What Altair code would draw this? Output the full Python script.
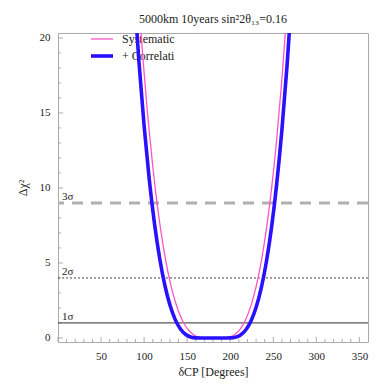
import altair as alt
import pandas as pd

# ---- data ----
deg_sys = [92, 98, 104, 110, 116, 122, 128, 134, 140, 146, 152, 158, 164, 170, 176, 182, 188, 194,
           200, 206, 212, 218, 224, 230, 236, 242, 248, 254, 260, 266]
chi_sys = [23.9, 19.08, 14.95, 11.46, 8.55, 6.19, 4.31, 2.85, 1.77, 1.0, 0.495, 0.197, 0.052, 0.004, 0, 0, 0, 0.009,
           0.076, 0.262, 0.627, 1.232, 2.136, 3.40, 5.08, 7.25, 9.95, 13.26, 17.23, 21.92]

deg_cor = [88, 94, 100, 106, 112, 118, 124, 130, 136, 142, 148, 154, 160, 166, 172, 178, 184, 190, 196,
           200, 206, 212, 218, 224, 230, 236, 242, 248, 254, 260, 266, 272]
chi_cor = [23.5, 18.4, 14.14, 10.56, 7.65, 5.33, 3.53, 2.19, 1.24, 0.616, 0.246, 0.065, 0.006, 0, 0, 0, 0, 0, 0,
           0.002, 0.045, 0.199, 0.533, 1.118, 2.025, 3.32, 5.08, 7.38, 10.28, 13.85, 18.17, 23.3]

series_names = ["Systematic", "+ Correlati"]
series_colors = ["#ff55c4", "#2b10ff"]
series_widths = [1.3, 3.6]
legend_rows = [6, 23]   # pixel offsets of the legend rows from the plot top
sigma_levels = [1, 4, 9]
sigma_labels = ["1σ", "2σ", "3σ"]

x_major = [0, 50, 100, 150, 200, 250, 300, 350]
x_minor = [v for v in range(10, 360, 10) if v % 50 != 0]
y_major = [0, 5, 10, 15, 20]
y_minor = [v for v in range(1, 21) if v % 5 != 0]

FONT = "Liberation Serif"
W, H = 310, 309

df = pd.concat([
    pd.DataFrame({"deg": deg_sys, "chi": chi_sys, "series": series_names[0], "order": range(len(deg_sys))}),
    pd.DataFrame({"deg": deg_cor, "chi": chi_cor, "series": series_names[1], "order": range(len(deg_cor))}),
])

xs = alt.Scale(domain=[0, 360], nice=False)
ys = alt.Scale(domain=[-0.27, 20.33], nice=False)
cs = alt.Scale(domain=series_names, range=series_colors)
ws = alt.Scale(domain=series_names, range=series_widths)

curves = alt.Chart(df).mark_line(clip=True, interpolate="monotone").encode(
    x=alt.X("deg:Q", scale=xs,
            axis=alt.Axis(values=x_major[1:], ticks=False, domain=False, grid=False,
                          labelPadding=8, labelFont=FONT, labelFontSize=11, labelColor="#222",
                          title="δCP [Degrees]", titleFont=FONT, titleFontSize=12,
                          titleFontWeight="normal", titleColor="#222", titlePadding=5)),
    y=alt.Y("chi:Q", scale=ys,
            axis=alt.Axis(values=y_major, ticks=False, domain=False, grid=False,
                          labelPadding=8, labelFont=FONT, labelFontSize=11, labelColor="#222",
                          title="Δχ²", titleFont=FONT, titleFontSize=12,
                          titleFontWeight="normal", titleColor="#222", titlePadding=10)),
    color=alt.Color("series:N", scale=cs, legend=None),
    strokeWidth=alt.StrokeWidth("series:N", scale=ws, legend=None),
    order="order:Q",
)

# legend drawn inside the plot, top-left (one row per series)
legend_layers = []
for name, row in zip(series_names, legend_rows):
    ldf = pd.DataFrame({"series": [name]})
    legend_layers.append(
        alt.Chart(ldf).mark_rule().encode(
            x=alt.value(33), x2=alt.value(55), y=alt.value(row),
            color=alt.Color("series:N", scale=cs, legend=None),
            strokeWidth=alt.StrokeWidth("series:N", scale=ws, legend=None),
        )
    )
    legend_layers.append(
        alt.Chart(ldf).mark_text(font=FONT, fontSize=12, align="left", baseline="middle",
                                 color="#222").encode(
            x=alt.value(64), y=alt.value(row), text="series:N")
    )

lev = pd.DataFrame({"level": sigma_levels, "label": sigma_labels})

rule1 = alt.Chart(lev[lev.level == 1]).mark_rule(color="#555", strokeWidth=1.2).encode(
    y=alt.Y("level:Q", scale=ys))
rule2 = alt.Chart(lev[lev.level == 4]).mark_rule(color="#444", strokeWidth=1, strokeDash=[2, 2]).encode(
    y=alt.Y("level:Q", scale=ys))
rule3 = alt.Chart(lev[lev.level == 9]).mark_rule(color="#b0b0b0", strokeWidth=3, strokeDash=[11, 8]).encode(
    y=alt.Y("level:Q", scale=ys))

sig_text = alt.Chart(lev).mark_text(font=FONT, fontSize=11, align="left", baseline="bottom",
                                     dx=0, dy=-1, color="#222").encode(
    x=alt.value(4), y=alt.Y("level:Q", scale=ys), text="label:N")

# inward ticks
xt_major = alt.Chart(pd.DataFrame({"v": x_major})).mark_rule(color="#999", strokeWidth=0.8).encode(
    x=alt.X("v:Q", scale=xs), y=alt.value(H), y2=alt.value(H - 5))
xt_minor = alt.Chart(pd.DataFrame({"v": x_minor})).mark_rule(color="#999", strokeWidth=0.8).encode(
    x=alt.X("v:Q", scale=xs), y=alt.value(H), y2=alt.value(H - 3))
yt_major = alt.Chart(pd.DataFrame({"v": y_major})).mark_rule(color="#999", strokeWidth=0.8).encode(
    y=alt.Y("v:Q", scale=ys), x=alt.value(0), x2=alt.value(5))
yt_minor = alt.Chart(pd.DataFrame({"v": y_minor})).mark_rule(color="#999", strokeWidth=0.8).encode(
    y=alt.Y("v:Q", scale=ys), x=alt.value(0), x2=alt.value(3))

chart = alt.layer(
    xt_major, xt_minor, yt_major, yt_minor,
    rule3, rule2, rule1, sig_text, *legend_layers, curves,
).properties(
    width=W, height=H,
    autosize=alt.AutoSizeParams(type="none"),
    padding={"left": 50, "top": 25, "right": 10, "bottom": 40},
    title=alt.TitleParams("5000km 10years sin²2θ₁₃=0.16", font=FONT, fontSize=12,
                          fontWeight="normal", color="#222", offset=6, anchor="middle"),
).configure(font=FONT).configure_view(stroke="#aaa", strokeWidth=1)

chart.save("out.html", embed_options={"renderer": "svg", "actions": False})
